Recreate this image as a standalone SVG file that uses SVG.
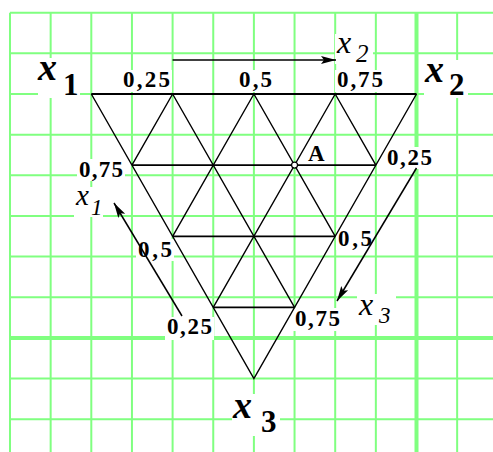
<svg xmlns="http://www.w3.org/2000/svg" width="493" height="452" viewBox="0 0 493 452">
<style>
.g{stroke:#80ff80;stroke-width:2;fill:none}
.gt{stroke:#80ff80;stroke-width:4;fill:none}
.tri{stroke:#000;stroke-width:1.4;fill:none}
.h{stroke:#000;stroke-width:1.8;fill:none}
.ar{stroke:#000;stroke-width:1.5;fill:none}
.num{font-family:"Liberation Serif",serif;font-weight:bold;font-size:23px;fill:#000}
.bx{font-family:"Liberation Serif",serif;font-weight:bold;font-style:italic;font-size:38px;fill:#000}
.bs{font-family:"Liberation Serif",serif;font-weight:bold;font-size:31px;fill:#000}
.sx{font-family:"Liberation Serif",serif;font-style:italic;font-size:32px;fill:#000}
.ss{font-family:"Liberation Serif",serif;font-style:italic;font-size:25px;fill:#000}
.bg{fill:#fff}
</style>
<defs>
<marker id="ah" markerUnits="userSpaceOnUse" markerWidth="16" markerHeight="10" refX="15" refY="4.5" orient="auto">
<path d="M0,0.5 L15,4.5 L0,8.5 L3,4.5 z" fill="#000"/>
</marker>
</defs>
<rect width="493" height="452" fill="#fff"/>
<g id="grid">
<path class="g" d="M10,12.7V452M50.65,12.7V452M91.3,12.7V452M131.95,12.7V452M172.6,12.7V452M213.25,12.7V452M253.9,12.7V452M294.55,12.7V452M335.2,12.7V452M375.85,12.7V452M457.15,12.7V452"/>
<path class="g" d="M10,12.7H493M10,53.35H493M10,94H493M10,134.65H493M10,175.3H493M10,215.95H493M10,256.6H493M10,297.25H493M10,378.55H493M10,419.2H493"/>
<path class="gt" d="M416.5,12.7V452M10,337.9H493"/>
</g>
<g id="label-backgrounds">
<rect class="bg" x="38" y="58" width="42" height="40"/>
<rect class="bg" x="424" y="60" width="44" height="38"/>
<rect class="bg" x="232" y="394" width="48" height="42"/>
<rect class="bg" x="335" y="34" width="38" height="30"/>
<rect class="bg" x="74" y="187" width="29" height="30"/>
<rect class="bg" x="357" y="294" width="39" height="31"/>
<rect class="bg" x="121" y="70" width="51" height="22"/>
<rect class="bg" x="237" y="70" width="37" height="22"/>
<rect class="bg" x="335" y="70" width="50" height="22"/>
<rect class="bg" x="77" y="159" width="48" height="22"/>
<rect class="bg" x="385" y="147" width="49" height="22"/>
<rect class="bg" x="136" y="239" width="38" height="22"/>
<rect class="bg" x="336" y="228" width="38" height="22"/>
<rect class="bg" x="165" y="317" width="49" height="23"/>
<rect class="bg" x="293" y="308" width="49" height="23"/>
<rect class="bg" x="306" y="144" width="24" height="20"/>
</g>
<g id="connectors">
<path class="tri" d="M91.3,94L253.9,378.55L416.5,94"/>
<path class="h" d="M91.3,94H416.5M131.95,165.1H375.85M172.6,236.3H335.2M213.25,307.4H294.55"/>
<path class="tri" d="M172.6,94L294.55,307.4M253.9,94L335.2,236.3M335.2,94L375.85,165.1"/>
<path class="tri" d="M335.2,94L213.25,307.4M253.9,94L172.6,236.3M172.6,94L131.95,165.1"/>
<path class="ar" d="M172.6,60H336" marker-end="url(#ah)"/>
<path class="ar" d="M182,316L114,203" marker-end="url(#ah)"/>
<path class="ar" d="M416.5,168L337,301" marker-end="url(#ah)"/>
</g>
<g id="point-A">
<circle cx="294.55" cy="165.1" r="3" fill="#fff" stroke="#000" stroke-width="1.2"/>
<text class="num" x="308" y="161" style="font-size:23px">A</text>
</g>
<g id="vertex-x1"><text class="bx" x="38" y="80">x</text><text class="bs" x="63" y="95">1</text></g>
<g id="vertex-x2"><text class="bx" x="425" y="82">x</text><text class="bs" x="449" y="95">2</text></g>
<g id="vertex-x3"><text class="bx" x="233" y="418">x</text><text class="bs" x="261" y="432">3</text></g>
<g id="axis-x2"><text class="sx" x="337" y="53">x</text><text class="ss" x="356" y="62">2</text></g>
<g id="axis-x1"><text class="sx" x="76" y="205" style="font-size:29px">x</text><text class="ss" x="91" y="215" style="font-size:23px">1</text></g>
<g id="axis-x3"><text class="sx" x="359" y="315">x</text><text class="ss" x="379" y="323" style="font-size:23px">3</text></g>
<g id="ticks">
<text class="num" x="123" y="87" textLength="47" lengthAdjust="spacing">0,25</text>
<text class="num" x="239" y="87" textLength="33" lengthAdjust="spacing">0,5</text>
<text class="num" x="337" y="87" textLength="46" lengthAdjust="spacing">0,75</text>
<text class="num" x="79" y="177" textLength="44" lengthAdjust="spacing">0,75</text>
<text class="num" x="387" y="165" textLength="45" lengthAdjust="spacing">0,25</text>
<text class="num" x="138" y="257" textLength="34" lengthAdjust="spacing">0,5</text>
<text class="num" x="338" y="246" textLength="34" lengthAdjust="spacing">0,5</text>
<text class="num" x="167" y="334" textLength="45" lengthAdjust="spacing">0,25</text>
<text class="num" x="295" y="326" textLength="45" lengthAdjust="spacing">0,75</text>
</g>
</svg>
